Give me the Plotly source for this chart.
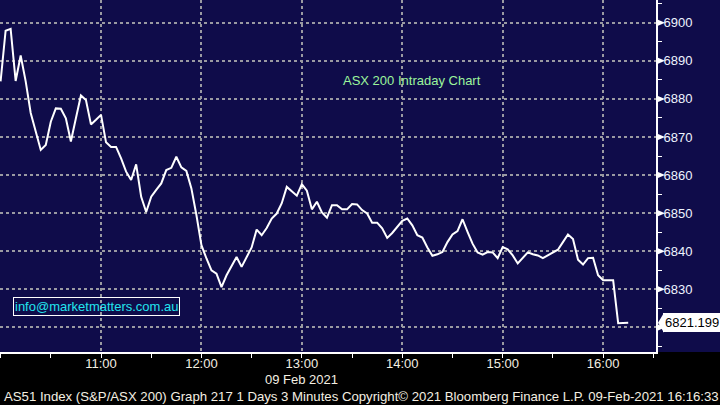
import pandas as pd
import plotly.graph_objects as go

# ---- data (3-minute bars, 09 Feb 2021) ----
start_time = "2021-02-09 10:00"
asx200 = [
    6884.6, 6897.9, 6898.4, 6884.7, 6891.4, 6884.6, 6876.3, 6871.4, 6866.6, 6867.9,
    6874.0, 6877.5, 6877.4, 6874.9, 6868.8, 6874.9, 6880.9, 6879.7, 6873.3, 6874.5,
    6875.8, 6868.6, 6867.4, 6867.4, 6864.4, 6860.9, 6858.7, 6862.8, 6854.3, 6850.3,
    6854.3, 6856.1, 6857.8, 6861.3, 6861.9, 6864.8, 6862.0, 6861.1, 6856.5, 6849.5,
    6841.6, 6838.1, 6835.0, 6834.1, 6830.6, 6833.7, 6836.3, 6838.5, 6835.9, 6838.5,
    6841.0, 6845.7, 6844.2, 6846.1, 6848.6, 6849.9, 6852.6, 6856.9, 6855.8, 6854.6,
    6857.6, 6855.9, 6851.0, 6853.0, 6850.2, 6848.8, 6852.1, 6852.1, 6851.0, 6851.0,
    6852.4, 6852.3, 6850.8, 6849.9, 6847.5, 6847.5, 6846.0, 6843.5, 6844.8, 6846.4,
    6848.0, 6848.6, 6846.8, 6844.2, 6843.6, 6841.0, 6838.8, 6839.2, 6839.8, 6842.4,
    6844.4, 6845.3, 6848.4, 6845.1, 6842.0, 6839.7, 6839.1, 6839.8, 6839.7, 6838.2,
    6841.1, 6840.5, 6838.9, 6836.8, 6838.2, 6839.7, 6839.2, 6838.9, 6838.2, 6838.9,
    6839.7, 6840.4, 6842.4, 6844.4, 6843.2, 6837.8, 6836.5, 6838.2, 6838.3, 6833.7,
    6832.4, 6832.4, 6832.4, 6821.1, 6821.2, 6821.199,
]
last_value = 6821.199
last_label = "6821.199"

x_tick_vals = ["2021-02-09 10:00", "2021-02-09 11:00", "2021-02-09 12:00", "2021-02-09 13:00",
               "2021-02-09 14:00", "2021-02-09 15:00", "2021-02-09 16:00"]
x_tick_text = ["", "11:00", "12:00", "13:00", "14:00", "15:00", "16:00"]
y_tick_vals = [6820, 6830, 6840, 6850, 6860, 6870, 6880, 6890, 6900]

title_text = "ASX 200 Intraday Chart"
email_text = "info@marketmatters.com.au"
date_text = "09 Feb 2021"
footer_text = ("AS51 Index (S&P/ASX 200) Graph 217 1 Days 3 Minutes Copyright\u00a9 2021 "
               "Bloomberg Finance L.P. 09-Feb-2021 16:16:33")

# ---- style ----
NAVY = "#0f0c4a"
GRID = "#9a9aa2"
W, H = 720, 405
ML, MR, MT, MB = 0, 64, 0, 53
PW = W - ML - MR
PH = H - MT - MB
Y_RANGE = [6813.55, 6905.96]
px_per_unit = PH / (Y_RANGE[1] - Y_RANGE[0])

times = pd.date_range(start_time, periods=len(asx200), freq="3min")

fig = go.Figure()
fig.add_trace(go.Scatter(
    x=times, y=asx200, mode="lines",
    line=dict(color="white", width=2),
    hoverinfo="skip", showlegend=False,
))

shapes = []
# black strip below the x-axis
shapes.append(dict(type="rect", xref="paper", yref="paper", x0=-0.05, x1=1.2,
                   y0=-MB / PH - 0.05, y1=0, fillcolor="black", line=dict(width=0), layer="below"))
# small triangle markers at major y ticks
dx0, dx1 = 2 / PW, 9 / PW
dy = 3 / px_per_unit
for v in y_tick_vals:
    shapes.append(dict(type="path", xref="paper", yref="y",
                       path=f"M {1+dx0},{v+dy} L {1+dx1},{v} L {1+dx0},{v-dy} Z",
                       fillcolor="white", line=dict(color="white", width=0)))
# pointer of last-value box
pdy = 10 / px_per_unit
shapes.append(dict(type="path", xref="paper", yref="y",
                   path=f"M {1+2/PW},{last_value} L {1+8/PW},{last_value+pdy} L {1+8/PW},{last_value-pdy} Z",
                   fillcolor="white", line=dict(color="white", width=0)))

annotations = [
    dict(text=title_text, xref="paper", yref="paper", x=412 / PW, y=1 - 80 / PH,
         xanchor="center", yanchor="middle",
         showarrow=False, font=dict(family="Liberation Sans", size=13, color="#9cf59c")),
    dict(text=email_text, xref="paper", yref="paper", x=13 / PW, y=1 - 306 / PH,
         xanchor="left", yanchor="middle", showarrow=False,
         font=dict(family="Liberation Sans", size=13, color="#22e4ee"),
         bordercolor="white", borderwidth=1, borderpad=1),
    dict(text=date_text, xref="x", yref="paper", x="2021-02-09 13:00", y=-(379 - PH) / PH,
         yanchor="middle", showarrow=False,
         font=dict(family="Liberation Sans", size=13, color="#f4efe2")),
    dict(text=footer_text, xref="paper", yref="paper", x=2 / PW, y=-(396 - PH) / PH,
         xanchor="left", yanchor="middle", showarrow=False,
         font=dict(family="Liberation Sans", size=13.2, color="#f4efe2")),
    dict(text=last_label, xref="paper", yref="y", x=1 + 7 / PW, y=last_value,
         xanchor="left", yanchor="middle", showarrow=False,
         font=dict(family="Liberation Sans", size=13, color="black"),
         bgcolor="white", bordercolor="white", borderwidth=1, borderpad=1),
]

fig.update_layout(
    width=W, height=H,
    margin=dict(l=ML, r=MR, t=MT, b=MB, pad=0, autoexpand=False),
    paper_bgcolor=NAVY, plot_bgcolor=NAVY,
    showlegend=False,
    shapes=shapes, annotations=annotations,
    xaxis=dict(
        range=["2021-02-09 09:59:39", "2021-02-09 16:31:36"],
        tickmode="array", tickvals=x_tick_vals, ticktext=x_tick_text,
        showgrid=True, gridcolor=GRID, gridwidth=2, griddash="dot",
        showline=True, linecolor="white", linewidth=2,
        ticks="", ticklabelstandoff=-2, automargin=False,
        tickfont=dict(family="Liberation Sans", size=13, color="#f4efe2"),
        minor=dict(dtick=30 * 60 * 1000, tick0="2021-02-09 10:00", ticks="outside",
                   ticklen=4, tickcolor="white", tickwidth=1, showgrid=False),
        zeroline=False, fixedrange=True,
    ),
    yaxis=dict(
        side="right", range=Y_RANGE,
        tickmode="array", tickvals=y_tick_vals,
        showgrid=True, gridcolor=GRID, gridwidth=2, griddash="dot",
        showline=True, linecolor="white", linewidth=2,
        ticks="", ticklabelstandoff=3, automargin=False,
        tickfont=dict(family="Liberation Sans", size=13, color="#eef4ff"),
        minor=dict(dtick=5, tick0=6825, ticks="outside", ticklen=4,
                   tickcolor="white", tickwidth=1, showgrid=False),
        zeroline=False, fixedrange=True,
    ),
)

fig.write_html(
    "out.html",
    config={"displayModeBar": False, "staticPlot": True},
    post_script="document.body.style.margin='0';document.body.style.background='#000';",
)
